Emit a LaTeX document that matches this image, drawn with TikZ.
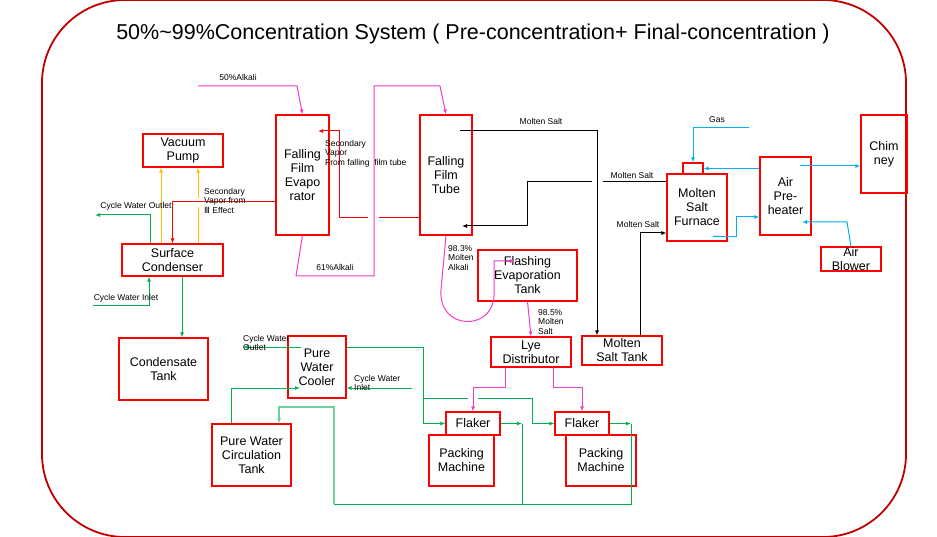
\documentclass[tikz,border=0pt]{standalone}
\usepackage{fontspec}
\setmainfont{Liberation Sans}
\newfontfamily\numfont{DejaVu Sans}
\usepackage{xcolor}
\usetikzlibrary{arrows.meta}
\definecolor{boxred}{RGB}{255,0,0}
\definecolor{framered}{RGB}{192,0,0}
\definecolor{alkpink}{RGB}{240,60,200}
\definecolor{watergreen}{RGB}{0,176,80}
\definecolor{lightgreen}{RGB}{110,210,160}
\definecolor{gasblue}{RGB}{0,176,240}
\definecolor{vacorange}{RGB}{255,192,0}

\begin{document}
\begin{tikzpicture}[x=1pt,y=-1pt,>={Latex[length=5pt,width=4pt]},
  box/.style={draw=boxred,line width=1.1pt,align=center,inner sep=0pt,font=\fontsize{12.5}{14}\selectfont},
  lbl/.style={align=left,inner sep=0pt,font=\fontsize{8.5}{9.5}\selectfont},
  pk/.style={draw=alkpink,line width=1pt},
  rd/.style={draw=boxred,line width=1pt},
  bk/.style={draw=black,line width=1pt},
  bl/.style={draw=gasblue,line width=1pt},
  gn/.style={draw=watergreen,line width=1pt},
  og/.style={draw=vacorange,line width=1pt}]
  \useasboundingbox (0,0) rectangle (937,537);
  \draw[framered,line width=1.8pt,rounded corners=83pt] (42,0) rectangle (906,537);

  \node[font=\fontsize{21.5}{24}\selectfont] (title) at (473,34)
    {50\%\textasciitilde 99\%Concentration System ( Pre-concentration+ Final-concentration )};

  % equipment
  \node[box,minimum width=80pt,minimum height=33pt] (vp) at (183,150.5) {Vacuum\\Pump};
  \node[box,minimum width=101pt,minimum height=32pt] (sc) at (172.5,260) {Surface\\Condenser};
  \node[box,minimum width=53pt,minimum height=120pt] (ffe) at (302.5,175) {Falling\\Film\\Evapo\\rator};
  \node[box,minimum width=52pt,minimum height=120pt] (fft) at (446,175) {Falling\\Film\\Tube};
  \node[box,minimum width=99pt,minimum height=51pt] (fet) at (527.5,275.5) {Flashing\\Evaporation\\Tank};
  \node[box,minimum width=80pt,minimum height=30pt] (lye) at (531,352) {Lye\\Distributor};
  \node[box,minimum width=80pt,minimum height=29pt] (mst) at (622,350.5) {Molten\\Salt Tank};
  \node[box,minimum width=60pt,minimum height=67pt] (msf) at (697,207.5) {Molten\\Salt\\Furnace};
  \node[box,minimum width=20pt,minimum height=11pt] (msftop) at (693,168.5) {};
  \node[box,minimum width=51pt,minimum height=78pt] (aph) at (785.5,196) {Air\\Pre-\\heater};
  \node[box,minimum width=46pt,minimum height=78pt] (chim) at (884,154) {Chim\\ney};
  \node[box,minimum width=60pt,minimum height=24pt] (ab) at (851,259) {Air\\Blower};
  \node[box,minimum width=89pt,minimum height=62pt] (ct) at (163.5,369) {Condensate\\Tank};
  \node[box,minimum width=58pt,minimum height=62pt] (pwc) at (317,367) {Pure\\Water\\Cooler};
  \node[box,minimum width=79pt,minimum height=62pt] (pwct) at (251.5,455) {Pure Water\\Circulation\\Tank};
  \node[box,minimum width=65pt,minimum height=51pt] (pm1) at (461.5,460.5) {Packing\\Machine};
  \node[box,minimum width=70pt,minimum height=51pt] (pm2) at (601,460.5) {Packing\\Machine};
  \node[box,minimum width=54pt,minimum height=23pt,fill=white] (fl1) at (473,423.5) {Flaker};
  \node[box,minimum width=54pt,minimum height=23pt,fill=white] (fl2) at (582,423.5) {Flaker};

  % free ends
  \coordinate (alkin) at (198,86);
  \coordinate (fetin) at (515,261);
  \coordinate (ffein) at (318,131);
  \coordinate (fftout) at (460,131);
  \coordinate (fftin) at (462,226);
  \coordinate (gasin) at (749,128);
  \coordinate (msfout) at (713,237);
  \coordinate (aphout) at (800,166);
  \coordinate (aphin) at (802,222);
  \coordinate (cwo1) at (95,215);
  \coordinate (cwi1) at (93,306);
  \coordinate (cwo2) at (243,347);
  \coordinate (cwi2) at (412,388);
  \coordinate (pwcout) at (301,347);
  \coordinate (pwcin) at (300,388);

  % alkali
  \draw[pk,->] (alkin) -- (297,86) -- (ffe.north);
  \draw[pk,->] (ffe.south) -- (296,276) -- (374,276) -- (374,86) -- (440,86) -- (fft.north);
  \draw[pk,->] (fft.south) -- (441,290) .. controls (438,330) and (492,332) .. (494,296) -- (494,261) -- (fetin);
  \draw[pk,->] (fet.south) -- (lye.north);
  \draw[pk,->] (505,0 |- lye.south) -- (505,387) -| (fl1.north);
  \draw[pk,->] (553,0 |- lye.south) -- (553,387) -| (fl2.north);
  \node[lbl] (l50) at (238,77) {50\%Alkali};
  \node[lbl] (l61) at (335,267) {61\%Alkali};
  \node[lbl,anchor=north west] (l983) at (448,245) {98.3\%\\Molten\\Alkali};
  \node[lbl,anchor=north west] (l985) at (538,309) {98.5\%\\Molten\\Salt};

  % secondary vapor
  \draw[rd,->] (ffe.west |- 0,202) -| (sc.north);
  \draw[rd] (fft.west |- 0,218) -- (379,218);
  \draw[rd,->] (368,218) -- (339,218) |- (ffein);
  \node[lbl,anchor=north west] (l3eff) at (204,188) {Secondary\\Vapor from\\{\numfont Ⅲ} Effect};
  \node[lbl,anchor=north west] (lsvft) at (325,140) {Secondary\\Vapor\\From falling~~film tube};

  % vacuum
  \draw[og,->] (161,0 |- sc.north) -- (161,0 |- vp.south);
  \draw[og] (198,0 |- sc.north) -- (198,207);
  \draw[og,->] (198,198) -- (198,0 |- vp.south);

  % molten salt
  \draw[bk,->] (fftout) -| (597,0 |- mst.north);
  \draw[bk] (msf.west |- 0,182) -- (603,182);
  \draw[bk,->] (592,182) -- (527,182) |- (fftin);
  \draw[bk,->] (640,0 |- mst.north) |- (msf.west |- 0,233);
  \node[lbl] (lms1) at (541,121) {Molten Salt};
  \node[lbl] (lms2) at (632,175) {Molten Salt};
  \node[lbl] (lms3) at (638,224) {Molten Salt};

  % gas and air
  \draw[bl,->] (gasin) -| (msftop.north);
  \draw[bl,->] (aph.west |- msftop.east) -- (msftop.east);
  \draw[bl,->] (msfout) -| (736,217) -- (aph.west |- 0,217);
  \draw[bl,->] (aphout) -- (chim.west |- aphout);
  \draw[bl,->] (ab.north) -- (847,222) -- (aphin);
  \node[lbl] (lgas) at (717,120) {Gas};

  % cycle water
  \draw[gn,->] (150,0 |- sc.north) |- (cwo1);
  \draw[gn,->] (cwi1) -| (149,0 |- sc.south);
  \draw[gn,->] (182,0 |- sc.south) -- (182,0 |- ct.north);
  \draw[gn,->] (pwcout) -- (cwo2);
  \draw[gn,->] (cwi2) -- (pwc.east |- cwi2);
  \draw[gn,->] (231,0 |- pwct.north) |- (pwcin);
  \draw[gn,->] (pwc.east |- pwcout) -| (423,423.5) -- (fl1.west);
  \draw[gn] (423,398) -- (468,398);
  \draw[gn,->] (478,398) -| (532,423.5) -- (fl2.west);
  \draw[gn,->] (fl1.east) -- (522,423.5);
  \draw[gn] (522,423.5) -- (522,505);
  \draw[gn,->] (fl2.east) -- (631,423.5);
  \draw[gn] (631,423.5) -- (631,505);
  \draw[gn] (631,504) -- (334,504);
  \draw[draw=lightgreen,line width=1.5pt,->] (334,504) |- (279,407) -- (279,0 |- pwct.north);
  \node[lbl] (lcwo1) at (136,206) {Cycle Water Outlet};
  \node[lbl] (lcwi1) at (126,298) {Cycle Water Inlet};
  \node[lbl,anchor=north west] (lcwo2) at (243,335) {Cycle Water\\Outlet};
  \node[lbl,anchor=north west] (lcwi2) at (354,375) {Cycle Water\\Inlet};
\end{tikzpicture}
\end{document}
